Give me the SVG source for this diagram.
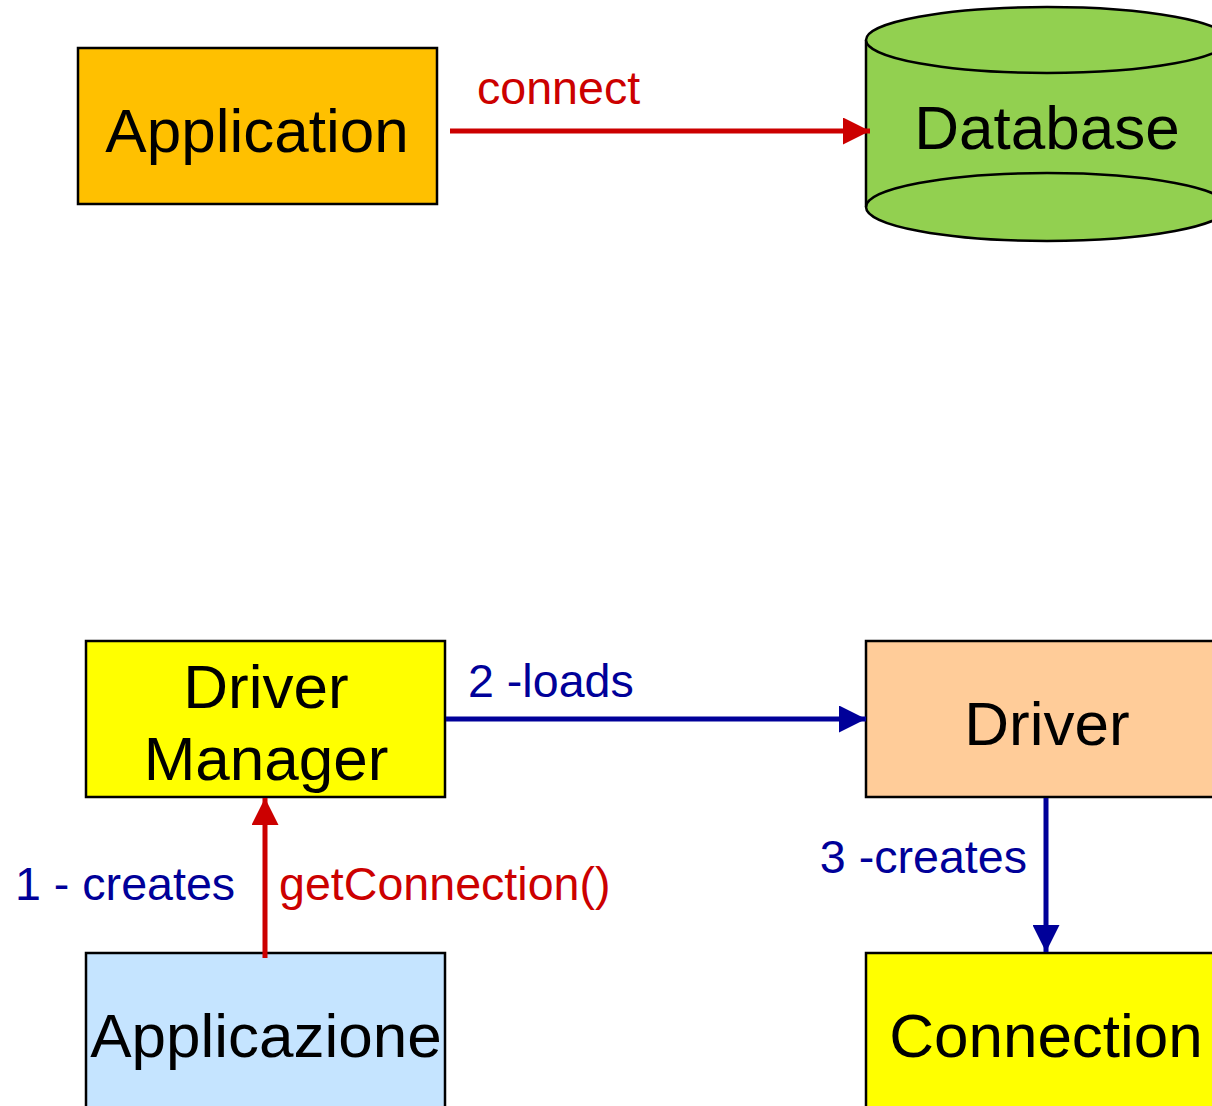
<svg xmlns="http://www.w3.org/2000/svg" width="1212" height="1106" viewBox="0 0 1212 1106">
  <style>
    .box { stroke: #000; stroke-width: 2.5; }
    .node-text { font-family: "Liberation Sans", Arial, sans-serif; font-size: 62px; fill: #000; text-anchor: middle; }
    .lbl { font-family: "Liberation Sans", Arial, sans-serif; font-size: 46.6px; }
    .red { fill: #CC0000; }
    .blue { fill: #000099; }
    .edge-red { stroke: #CC0000; stroke-width: 5; fill: none; }
    .edge-blue { stroke: #000099; stroke-width: 5; fill: none; }
  </style>
  <defs>
    <marker id="arrow-red" markerUnits="userSpaceOnUse" markerWidth="27" markerHeight="27" viewBox="0 0 27 27" refX="27" refY="13.5" orient="auto">
      <path d="M0,0 L27,13.5 L0,27 z" fill="#CC0000"/>
    </marker>
    <marker id="arrow-blue" markerUnits="userSpaceOnUse" markerWidth="27" markerHeight="27" viewBox="0 0 27 27" refX="27" refY="13.5" orient="auto">
      <path d="M0,0 L27,13.5 L0,27 z" fill="#000099"/>
    </marker>
  </defs>
  <rect width="1212" height="1106" fill="#fff"/>

  <!-- top: application talks to database -->
  <g id="application">
    <rect class="box" x="78" y="48" width="359" height="156" fill="#FFC000"/>
    <text class="node-text" x="257" y="152">Application</text>
  </g>
  <g id="database">
    <!-- cylinder body with rounded bottom -->
    <path class="box" d="M866,40 V207 A181,34 0 0 0 1228,207 V40" fill="#92D050"/>
    <!-- visible back rim of the bottom ellipse -->
    <path d="M866,207 A181,34 0 0 1 1228,207" fill="none" stroke="#000" stroke-width="2.5"/>
    <!-- top lid -->
    <ellipse class="box" cx="1047" cy="40" rx="181" ry="33" fill="#92D050"/>
    <text class="node-text" x="1047" y="149">Database</text>
  </g>

  <!-- bottom: JDBC structure -->
  <g id="driver-manager">
    <rect class="box" x="86" y="641" width="359" height="156" fill="#FFFF00"/>
    <text class="node-text" x="266" y="708">Driver</text>
    <text class="node-text" x="266" y="780">Manager</text>
  </g>
  <g id="driver">
    <rect class="box" x="866" y="641" width="360" height="156" fill="#FFCC99"/>
    <text class="node-text" x="1047" y="745">Driver</text>
  </g>
  <g id="applicazione">
    <rect class="box" x="86" y="953" width="359" height="170" fill="#C5E4FF"/>
    <text class="node-text" x="266" y="1057">Applicazione</text>
  </g>
  <g id="connection">
    <rect class="box" x="866" y="953" width="360" height="170" fill="#FFFF00"/>
    <text class="node-text" x="1046" y="1057">Connection</text>
  </g>

  <g id="connectors">
    <line class="edge-red" x1="450" y1="131" x2="870" y2="131" marker-end="url(#arrow-red)"/>
    <text class="lbl red" x="477" y="104">connect</text>

    <line class="edge-blue" x1="446" y1="719" x2="866" y2="719" marker-end="url(#arrow-blue)"/>
    <text class="lbl blue" x="468" y="697">2 -loads</text>

    <line class="edge-blue" x1="1046" y1="798" x2="1046" y2="952" marker-end="url(#arrow-blue)"/>
    <text class="lbl blue" x="1027" y="873" text-anchor="end">3 -creates</text>

    <line class="edge-red" x1="265" y1="958" x2="265" y2="798" marker-end="url(#arrow-red)"/>
    <text class="lbl blue" x="15" y="900">1 - creates</text>
    <text class="lbl red" x="279" y="900">getConnection()</text>
  </g>
</svg>
